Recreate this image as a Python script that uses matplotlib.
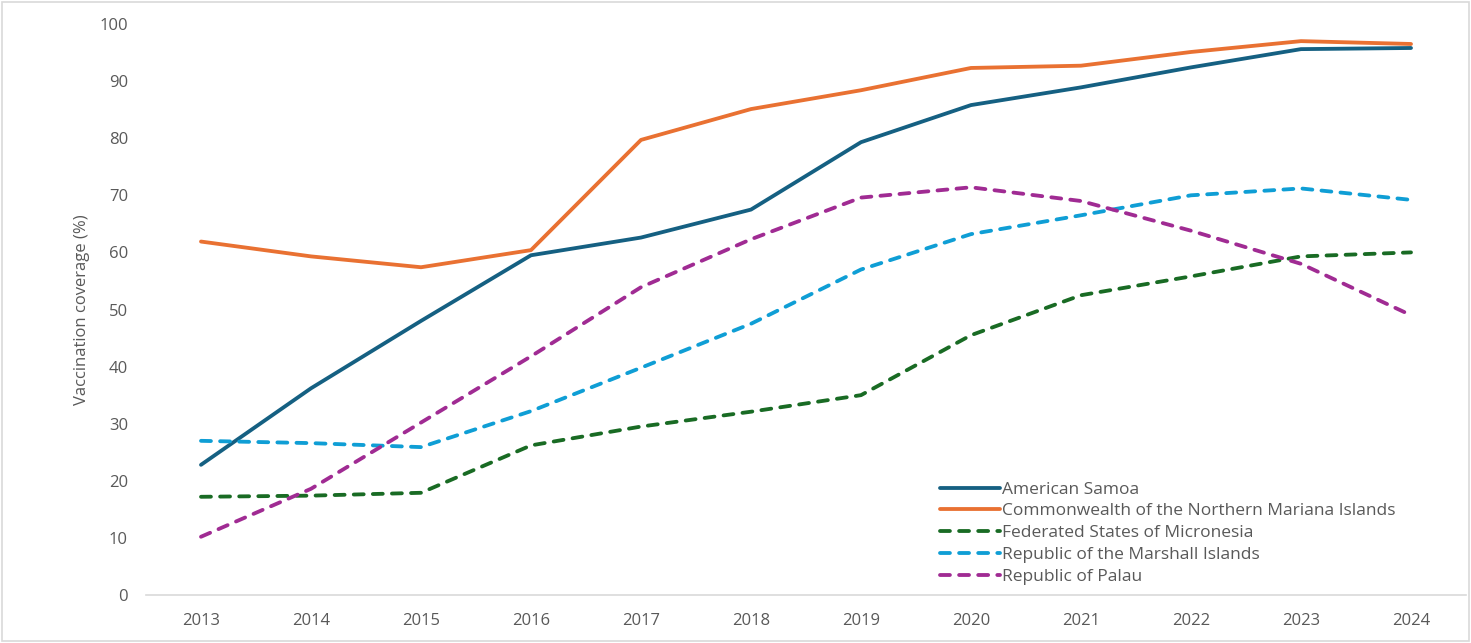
import matplotlib
matplotlib.use("Agg")
import matplotlib.pyplot as plt
from matplotlib.patches import Rectangle

years = ["2013", "2014", "2015", "2016", "2017", "2018", "2019", "2020", "2021", "2022", "2023", "2024"]
american_samoa = [22.8, 36.2, 48.0, 59.5, 62.6, 67.5, 79.3, 85.8, 88.9, 92.4, 95.6, 95.8]
cnmi = [61.9, 59.3, 57.4, 60.4, 79.7, 85.1, 88.4, 92.3, 92.7, 95.1, 97.0, 96.5]
fsm = [17.2, 17.4, 17.9, 26.2, 29.5, 32.1, 35.0, 45.5, 52.5, 55.8, 59.3, 60.0]
rmi = [27.0, 26.6, 25.9, 32.2, 39.8, 47.5, 57.0, 63.2, 66.5, 70.0, 71.2, 69.2]
palau = [10.2, 18.6, 30.2, 41.8, 53.9, 62.3, 69.6, 71.4, 69.0, 63.8, 58.0, 49.0]

series_names = ["American Samoa", "Commonwealth of the Northern Mariana Islands",
                "Federated States of Micronesia", "Republic of the Marshall Islands",
                "Republic of Palau"]
series_values = [american_samoa, cnmi, fsm, rmi, palau]
colors = ["#156082", "#E97132", "#196B24", "#0F9ED5", "#A02B93"]
dashed = [False, False, True, True, True]

plt.rcParams['font.family'] = ['Open Sans', 'DejaVu Sans']
txt = "#595959"

fig = plt.figure(figsize=(14.71, 6.43), dpi=100)
ax = fig.add_axes([146/1471, 1 - 595/643, (1466 - 146)/1471, (595 - 24)/643])

x = list(range(len(years)))
lw = 2.75
for name, vals, c, d in zip(series_names, series_values, colors, dashed):
    if d:
        ax.plot(x, vals, color=c, lw=lw, linestyle=(0, (2.6, 2.4)),
                dash_capstyle='round', solid_joinstyle='round', label=name)
    else:
        ax.plot(x, vals, color=c, lw=lw, solid_capstyle='round',
                solid_joinstyle='round', label=name)

ax.set_xlim(-0.5, len(years) - 0.5)
ax.set_ylim(0, 100)
ax.set_yticks(range(0, 101, 10))
ax.set_xticks(x)
ax.set_xticklabels(years)
for s in ["top", "right", "left"]:
    ax.spines[s].set_visible(False)
ax.spines["bottom"].set_color("#D9D9D9")
ax.spines["bottom"].set_linewidth(1.2)
ax.tick_params(axis='both', length=0, labelsize=12, labelcolor=txt)
ax.tick_params(axis='y', pad=13)
ax.tick_params(axis='x', pad=13)
ax.set_ylabel("Vaccination coverage (%)", fontsize=12, color=txt, labelpad=7)

leg = ax.legend(loc='lower left', bbox_to_anchor=(0.592, -0.004), frameon=False,
                fontsize=12.5, handlelength=3.5, handletextpad=0.1,
                labelspacing=0.33, borderaxespad=0.3)
for t in leg.get_texts():
    t.set_color(txt)

fig.patches.append(Rectangle((2/1471, 2/643), 1 - 4/1471, 1 - 4/643,
                             transform=fig.transFigure, fill=False,
                             edgecolor="#D9D9D9", lw=1.2))

fig.savefig("out.png", dpi=100)
